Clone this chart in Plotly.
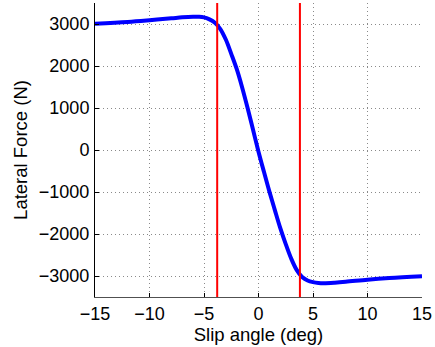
import plotly.graph_objects as go

# Slip angle (deg) and lateral force (N)
slip_deg = [-15, -12, -10, -8, -7, -6, -5.5, -5, -4.5, -4, -3.5, -3, -2.5, -2,
            -1.5, -1, -0.5, 0, 0.5, 1, 1.5, 2, 2.5, 3, 3.5, 4, 4.5, 5, 5.5,
            6, 7, 8, 10, 12, 15]
lat_force = [3005, 3050, 3090, 3135, 3158, 3172, 3172, 3158, 3110, 3030, 2880,
             2630, 2290, 1930, 1490, 1000, 480, -40, -520, -990, -1430, -1860,
             -2240, -2585, -2855, -3025, -3106, -3145, -3165, -3170, -3158,
             -3138, -3088, -3048, -3003]

# Red vertical marker lines (slip angles in deg)
marker_slips = [-3.79, 3.80]
y_range = [-3500, 3500]

x_ticks = [-15, -10, -5, 0, 5, 10, 15]
y_ticks = [-3000, -2000, -1000, 0, 1000, 2000, 3000]
x_tick_text = ["\u221215", "\u221210", "\u22125", "0", "5", "10", "15"]
y_tick_text = ["\u22123000", "\u22122000", "\u22121000", "0", "1000", "2000", "3000"]

fig = go.Figure()
fig.add_trace(go.Scatter(x=slip_deg, y=lat_force, mode="lines",
                         line=dict(color="#0000ff", width=4, shape="spline", smoothing=1.0),
                         showlegend=False, hoverinfo="skip"))
for s in marker_slips:
    fig.add_trace(go.Scatter(x=[s, s], y=y_range, mode="lines",
                             line=dict(color="#ff0000", width=2),
                             showlegend=False, hoverinfo="skip"))

tick_font = dict(family="Liberation Sans, Arial, sans-serif", size=18, color="black")
title_font = dict(family="Liberation Sans, Arial, sans-serif", size=18.5, color="black")
grid = dict(showgrid=True, gridcolor="#8a8a8a", griddash="1px,3px", gridwidth=1,
            zeroline=False, showline=True, linewidth=1,
            ticks="inside", ticklen=4, tickcolor="black")
fig.update_layout(
    width=435, height=347,
    margin=dict(l=95, r=13, t=3, b=50),
    paper_bgcolor="white", plot_bgcolor="white",
    font=tick_font,
)
fig.update_xaxes(range=[-15, 15], tickvals=x_ticks, ticktext=x_tick_text,
                 linecolor="#505050", ticklabelstandoff=0,
                 title=dict(text="Slip angle (deg)", standoff=0, font=title_font),
                 tickfont=tick_font, **grid)
fig.update_yaxes(range=y_range, tickvals=y_ticks, ticktext=y_tick_text,
                 linecolor="black", ticklabelstandoff=1,
                 title=dict(text="Lateral Force (N)", standoff=6, font=title_font),
                 tickfont=tick_font, **grid)
fig.write_html("out.html")
